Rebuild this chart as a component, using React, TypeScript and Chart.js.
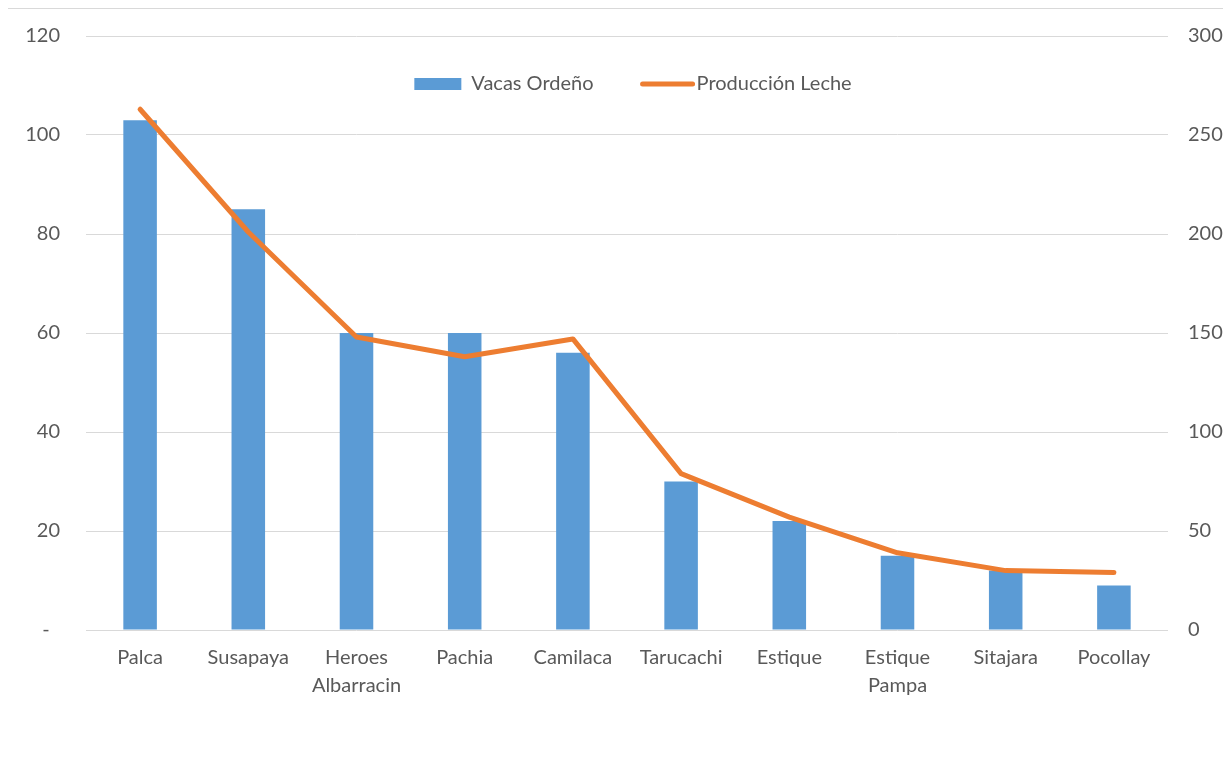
import React, { useEffect, useRef } from 'react';
import { Chart, registerables } from 'chart.js';

Chart.register(...registerables);

const categories = ['Palca', 'Susapaya', 'Heroes Albarracin', 'Pachia', 'Camilaca', 'Tarucachi', 'Estique', 'Estique Pampa', 'Sitajara', 'Pocollay'];
const vacasOrdeno = [103, 85, 60, 60, 56, 30, 22, 15, 12, 9];
const produccionLeche = [263, 201, 148, 138, 147, 79, 57, 39, 30, 29];
const seriesNames = ['Vacas Ordeño', 'Producción Leche'];
const leftAxis = { min: 0, max: 120, step: 20 };
const rightAxis = { min: 0, max: 300, step: 50 };

const FONT = 'Lato, "Open Sans", sans-serif';
const FONT_SIZE = 20;
const TEXT = '#595959';
const GRID = '#d9d9d9';
const BLUE = '#5b9bd5';
const ORANGE = '#ed7d31';

const legendPlugin = {
  id: 'excelLegend',
  afterDatasetsDraw(chart: any) {
    const ctx = chart.ctx;
    const area = chart.chartArea;
    const ds = chart.data.datasets;
    ctx.save();
    ctx.font = `${FONT_SIZE}px ${FONT}`;
    const t1 = ds[0].label;
    const t2 = ds[1].label;
    const w1 = ctx.measureText(t1).width;
    const w2 = ctx.measureText(t2).width;
    const boxW = 47, gap1 = 10, gapMid = 49, lineW = 50, gap2 = 4;
    const total = boxW + gap1 + w1 + gapMid + lineW + gap2 + w2;
    const cx = (area.left + area.right) / 2 + 6;
    const y = area.top + 48;
    let x = cx - total / 2;
    ctx.fillStyle = BLUE;
    ctx.fillRect(x, y - 6, boxW, 12);
    x += boxW + gap1;
    ctx.fillStyle = TEXT;
    ctx.textBaseline = 'middle';
    ctx.textAlign = 'left';
    ctx.fillText(t1, x, y);
    x += w1 + gapMid;
    ctx.strokeStyle = ORANGE;
    ctx.lineWidth = 5;
    ctx.lineCap = 'round';
    ctx.beginPath();
    ctx.moveTo(x, y);
    ctx.lineTo(x + lineW, y);
    ctx.stroke();
    x += lineW + gap2;
    ctx.fillText(t2, x, y);
    ctx.restore();
  },
};

export default function App() {
  const ref = useRef<HTMLCanvasElement>(null);
  useEffect(() => {
    if (!ref.current) return;
    const chart = new Chart(ref.current, {
      type: 'bar',
      data: {
        labels: categories,
        datasets: [
          {
            type: 'bar',
            label: seriesNames[0],
            data: vacasOrdeno,
            backgroundColor: BLUE,
            barPercentage: 0.31,
            categoryPercentage: 1,
            yAxisID: 'y',
            order: 1,
          } as any,
          {
            type: 'line',
            label: seriesNames[1],
            data: produccionLeche,
            borderColor: ORANGE,
            backgroundColor: ORANGE,
            borderWidth: 5,
            pointRadius: 0,
            tension: 0,
            borderCapStyle: 'round',
            borderJoinStyle: 'round',
            yAxisID: 'y1',
            order: 0,
          } as any,
        ],
      },
      options: {
        responsive: false,
        animation: false,
        layout: { autoPadding: false, padding: { top: 27, left: 0, right: 0, bottom: 0 } },
        plugins: { legend: { display: false }, tooltip: { enabled: false }, title: { display: false } },
        scales: {
          x: {
            grid: { display: false, drawTicks: false },
            border: { display: false },
            ticks: {
              color: TEXT,
              font: { family: FONT, size: FONT_SIZE, lineHeight: 1.4 },
              padding: 14,
              maxRotation: 0,
              autoSkip: false,
              callback: function (this: any, v: any) {
                const l = categories[v as number];
                return l.includes(' ') ? l.split(' ') : l;
              },
            },
            afterFit: (s: any) => { s.height = 122; s.paddingLeft = 0; s.paddingRight = 0; },
          },
          y: {
            position: 'left',
            min: leftAxis.min,
            max: leftAxis.max,
            grid: { color: GRID, lineWidth: 1, drawTicks: false },
            border: { display: false },
            ticks: {
              stepSize: leftAxis.step,
              color: TEXT,
              font: { family: FONT, size: FONT_SIZE },
              padding: 26,
              callback: (v: any) => (v === 0 ? '-  ' : String(v)),
            },
            afterFit: (s: any) => { s.width = 78; s.paddingTop = 0; s.paddingBottom = 0; },
          },
          y1: {
            position: 'right',
            min: rightAxis.min,
            max: rightAxis.max,
            grid: { display: false, drawTicks: false },
            border: { display: false },
            ticks: {
              stepSize: rightAxis.step,
              color: TEXT,
              font: { family: FONT, size: FONT_SIZE },
              padding: 20,
            },
            afterFit: (s: any) => { s.width = 62; s.paddingTop = 0; s.paddingBottom = 0; },
          },
        },
      },
      plugins: [legendPlugin],
    });
    return () => chart.destroy();
  }, []);
  return (
    <div
      style={{
        marginLeft: -1,
        width: 1222,
        height: 743,
        borderTop: `1px solid ${GRID}`,
        borderLeft: `1px solid ${GRID}`,
        background: '#fff',
      }}
    >
      <canvas ref={ref} width={1222} height={743} style={{ display: 'block' }} />
    </div>
  );
}
